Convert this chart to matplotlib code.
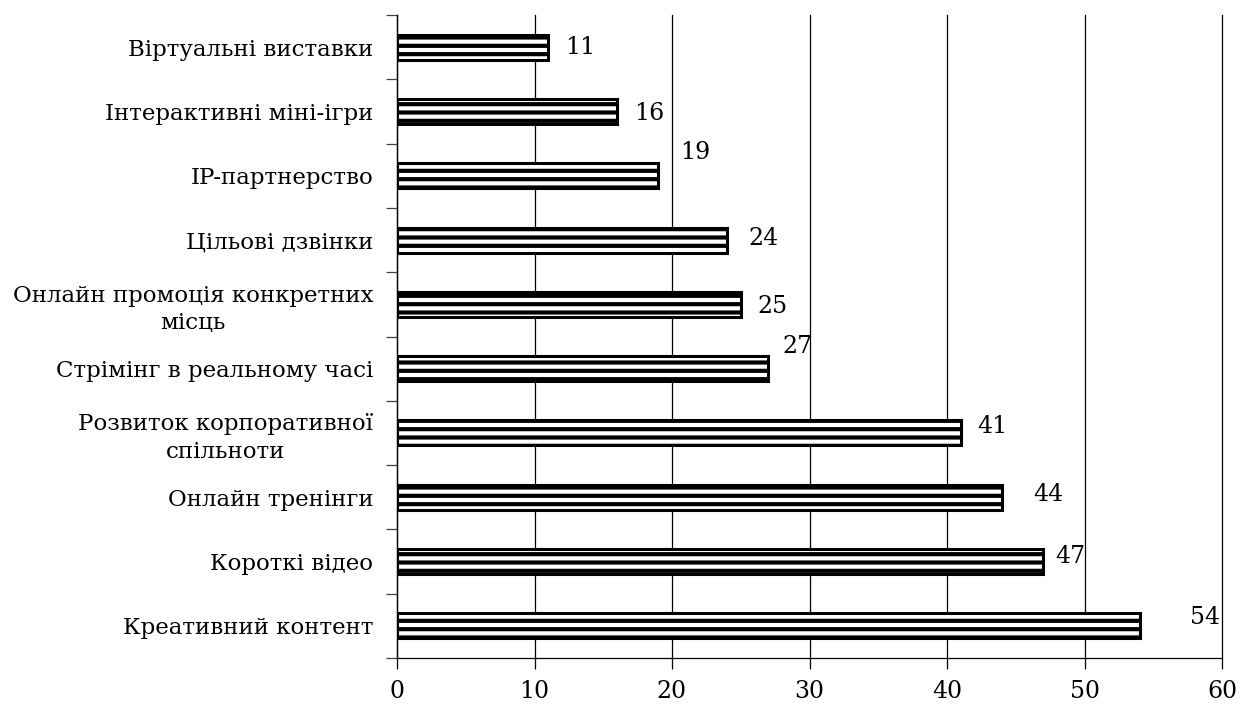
import matplotlib.pyplot as plt
from matplotlib.ticker import FixedLocator, MultipleLocator

plt.rcParams['font.family'] = ['DejaVu Serif']
plt.rcParams['hatch.linewidth'] = 3.0

# categories from bottom to top
categories = [
    'Креативний контент',
    'Короткі відео',
    'Онлайн тренінги',
    'Розвиток корпоративної\nспільноти',
    'Стрімінг в реальному часі',
    'Онлайн промоція конкретних\nмісць',
    'Цільові дзвінки',
    'IP-партнерство',
    'Інтерактивні міні-ігри',
    'Віртуальні виставки',
]
values = [54, 47, 44, 41, 27, 25, 24, 19, 16, 11]

# label offsets in pixels (dx from bar end, dy from bar centre)
label_dx = [51, 12, 31, 16, 14, 17, 21, 22, 17, 17]
label_dy = [8, 5, 3, 6, 22, -2, 2, 23, -2, 0]

fig = plt.figure(figsize=(12.42, 7.06), dpi=100)
ax = fig.add_axes([397 / 1242, 48 / 706, 825 / 1242, 643 / 706])

pos = list(range(len(categories)))
ax.barh(pos, values, height=0.39, color='white', edgecolor='black',
        linewidth=2.2, hatch='--', zorder=3)

for p, v, dx, dy in zip(pos, values, label_dx, label_dy):
    ax.annotate(str(v), xy=(v, p), xytext=(dx, dy), textcoords='offset pixels',
                ha='left', va='center', fontsize=17, zorder=4)

ax.set_xlim(0, 60)
ax.set_ylim(-0.5, len(categories) - 0.5)
ax.xaxis.set_major_locator(MultipleLocator(10))
ax.grid(axis='x', color='black', linewidth=0.9, zorder=0)
for gl in ax.get_xgridlines():
    gl.set_clip_on(False)

ax.set_yticks(pos)
ax.set_yticklabels(categories, fontsize=16.5)
for lab in ax.get_yticklabels():
    lab.set_multialignment('center')
    lab.set_linespacing(1.3)
ax.yaxis.set_minor_locator(FixedLocator([p - 0.5 for p in range(len(categories) + 1)]))
ax.tick_params(axis='y', which='major', length=0, pad=17)
ax.tick_params(axis='y', which='minor', length=8, width=0.9, color='#404040')
ax.tick_params(axis='x', length=8, width=0.9, labelsize=17, pad=8)

for side in ['top', 'right']:
    ax.spines[side].set_visible(False)
ax.spines['left'].set_linewidth(0.9)
ax.spines['bottom'].set_linewidth(0.9)

fig.savefig('out.png', dpi=100)
